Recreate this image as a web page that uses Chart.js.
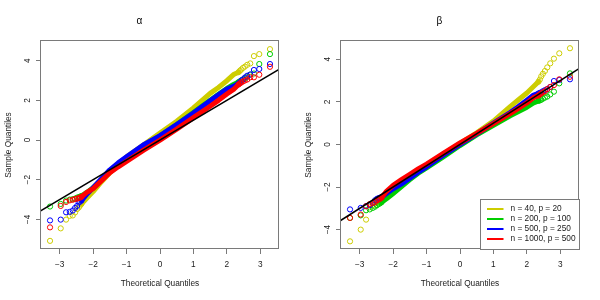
<!DOCTYPE html>
<html>
<head>
<meta charset="utf-8">
<title>QQ plots</title>
<script src="https://cdn.jsdelivr.net/npm/chart.js@4.4.0/dist/chart.umd.min.js"></script>
<style>
  body { margin: 0; background: #fff; }
  .wrap { display: flex; width: 600px; height: 300px; }
  canvas { display: block; }
</style>
</head>
<body>
<div class="wrap">
  <canvas id="alphaChart" width="300" height="300"></canvas>
  <canvas id="betaChart" width="300" height="300"></canvas>
</div>
<script>
// series (one per simulation setting)
const seriesLabels = ["n = 40, p = 20", "n = 200, p = 100", "n = 500, p = 250", "n = 1000, p = 500"];
const seriesColors = ["#cdcd00", "#00cd00", "#0000ff", "#ff0000"];

// axis ticks and ranges
const xTicks = [-3, -2, -1, 0, 1, 2, 3];
const yTicks = [-4, -2, 0, 2, 4];
const xRange = [-3.56, 3.56];
const alphaYRange = [-5.49, 4.99];
const betaYRange = [-4.91, 4.86];
const refLine = [-4, 4]; // y = x

// theoretical quantiles of the separated tail points
const tailX = [-3.29, -2.97, -2.81, -2.70, -2.61, -2.54, -2.48, -2.43, -2.39, -2.35,
               2.35, 2.39, 2.43, 2.48, 2.54, 2.61, 2.70, 2.81, 2.97, 3.29];
// theoretical quantiles along the dense middle band
const bandX = [-2.35, -2.2, -2.0, -1.75, -1.5, -1.25, -1.0, -0.5, 0, 0.5, 1.0, 1.5, 1.75, 2.0, 2.2, 2.35];

// alpha panel, sample quantiles
const alphaTail40 = [-5.08, -4.45, -4.01, -3.82, -3.80, -3.65, -3.48, -3.40, -3.30, -3.22,
                     3.42, 3.49, 3.55, 3.63, 3.70, 3.79, 3.86, 4.23, 4.33, 4.58];
const alphaTail200 = [-3.35, -3.22, -3.05, -3.00, -2.98, -2.95, -2.90, -2.88, -2.85, -2.82,
                      2.92, 2.95, 3.00, 3.05, 3.10, 3.20, 3.30, 3.35, 3.83, 4.33];
const alphaTail500 = [-4.05, -4.01, -3.64, -3.62, -3.55, -3.42, -3.32, -3.15, -3.10, -3.05,
                      2.85, 2.90, 3.00, 3.05, 3.15, 3.24, 3.30, 3.53, 3.58, 3.83];
const alphaTail1000 = [-4.40, -3.32, -3.12, -3.04, -3.01, -2.97, -2.95, -2.92, -2.90, -2.86,
                       2.80, 2.85, 2.90, 2.95, 3.00, 3.05, 3.16, 3.16, 3.29, 3.69];
const alphaBand40 = [-3.22, -2.95, -2.60, -2.10, -1.65, -1.25, -0.85, -0.25, 0.35, 0.95, 1.62, 2.35, 2.65, 2.99, 3.30, 3.42];
const alphaBand200 = [-2.82, -2.65, -2.40, -2.00, -1.55, -1.20, -0.90, -0.30, 0.20, 0.78, 1.38, 2.00, 2.30, 2.60, 2.80, 2.92];
const alphaBand500 = [-3.05, -2.75, -2.40, -1.95, -1.50, -1.15, -0.85, -0.25, 0.22, 0.78, 1.36, 1.98, 2.28, 2.57, 2.70, 2.85];
const alphaBand1000 = [-2.86, -2.65, -2.45, -2.05, -1.65, -1.35, -1.08, -0.52, 0.00, 0.55, 1.13, 1.70, 2.00, 2.32, 2.55, 2.80];

// beta panel, sample quantiles
const betaTail40 = [-4.55, -4.00, -3.53, -2.95, -2.85, -2.78, -2.72, -2.66, -2.62, -2.58,
                    2.95, 3.05, 3.20, 3.32, 3.45, 3.62, 3.81, 4.03, 4.28, 4.52];
const betaTail200 = [-3.45, -3.33, -3.09, -3.05, -2.98, -2.92, -2.85, -2.80, -2.76, -2.72,
                     2.05, 2.07, 2.10, 2.15, 2.20, 2.25, 2.35, 2.48, 2.87, 3.34];
const betaTail500 = [-3.05, -2.98, -2.90, -2.85, -2.75, -2.62, -2.55, -2.52, -2.50, -2.48,
                     2.40, 2.42, 2.45, 2.50, 2.55, 2.60, 2.70, 2.98, 3.03, 3.06];
const betaTail1000 = [-3.45, -3.29, -2.90, -2.80, -2.75, -2.70, -2.62, -2.58, -2.55, -2.50,
                      2.30, 2.35, 2.40, 2.45, 2.50, 2.60, 2.70, 2.79, 3.06, 3.18];
const betaBand40 = [-2.58, -2.30, -2.05, -1.78, -1.50, -1.22, -0.98, -0.45, 0.05, 0.55, 1.10, 1.78, 2.10, 2.42, 2.72, 2.95];
const betaBand200 = [-2.72, -2.55, -2.30, -1.98, -1.65, -1.35, -1.10, -0.58, -0.05, 0.45, 0.90, 1.35, 1.55, 1.75, 1.95, 2.05];
const betaBand500 = [-2.48, -2.30, -2.08, -1.85, -1.58, -1.30, -1.05, -0.50, 0.00, 0.50, 1.00, 1.50, 1.78, 2.08, 2.32, 2.40];
const betaBand1000 = [-2.50, -2.20, -1.92, -1.65, -1.40, -1.15, -0.92, -0.42, 0.07, 0.52, 0.98, 1.45, 1.70, 1.95, 2.20, 2.30];

const fontFamily = "'Liberation Sans', Arial, sans-serif";
const smallFont = { family: fontFamily, size: 8.3 };
const textColor = "#1a1a1a";
const axisGray = "#7a7a7a";

// R style minus sign
const fmt = v => String(v).replace("-", "\u2212");

// frame around the plot region
const boxPlugin = {
  id: "box",
  afterDatasetsDraw(chart) {
    const { ctx, chartArea: a } = chart;
    ctx.save();
    ctx.strokeStyle = axisGray;
    ctx.lineWidth = 1;
    ctx.strokeRect(Math.round(a.left) - 0.5, Math.round(a.top) - 0.5,
                   Math.round(a.right - a.left), Math.round(a.bottom - a.top));
    ctx.restore();
  }
};

// legend box in the bottom right corner, like R's legend("bottomright")
const legendBox = {
  id: "legendBox",
  afterDraw(chart, args, opts) {
    if (!opts.show) return;
    const { ctx, chartArea: a } = chart;
    const w = 99, h = 50;
    const left = Math.round(a.right) - w, top = Math.round(a.bottom) - h;
    ctx.save();
    ctx.fillStyle = "#fff";
    ctx.fillRect(left, top, w, h);
    ctx.strokeStyle = axisGray;
    ctx.lineWidth = 1;
    ctx.strokeRect(left + 0.5, top + 0.5, w, h);
    ctx.font = "8.3px " + fontFamily;
    ctx.textBaseline = "middle";
    ctx.textAlign = "left";
    seriesLabels.forEach((label, i) => {
      const y = top + 10 + i * 10;
      ctx.strokeStyle = seriesColors[i];
      ctx.lineWidth = 2;
      ctx.beginPath();
      ctx.moveTo(left + 7, y);
      ctx.lineTo(left + 23.5, y);
      ctx.stroke();
      ctx.fillStyle = textColor;
      ctx.fillText(label, left + 30.5, y);
    });
    ctx.restore();
  }
};

function buildDatasets(bands, tails) {
  const sets = [];
  seriesLabels.forEach((label, i) => {
    const order = seriesLabels.length - i; // red ends up on top
    sets.push({
      type: "line",
      label: label,
      order: order,
      data: bandX.map((x, k) => ({ x: x, y: bands[i][k] })),
      borderColor: seriesColors[i],
      borderWidth: 5,
      borderCapStyle: "round",
      borderJoinStyle: "round",
      pointRadius: 0,
      tension: 0
    });
    sets.push({
      type: "scatter",
      label: label,
      order: order,
      data: tailX.map((x, k) => ({ x: x, y: tails[i][k] })),
      borderColor: seriesColors[i],
      backgroundColor: "rgba(0,0,0,0)",
      pointRadius: 2.6,
      borderWidth: 1
    });
  });
  sets.push({
    type: "line",
    label: "y = x",
    order: 0,
    data: refLine.map(v => ({ x: v, y: v })),
    borderColor: "#000",
    borderWidth: 1.5,
    pointRadius: 0,
    clip: 0
  });
  return sets;
}

function makeChart(id, title, yRange, bands, tails, showLegend) {
  const ctx = document.getElementById(id).getContext("2d");
  return new Chart(ctx, {
    type: "scatter",
    data: { datasets: buildDatasets(bands, tails) },
    options: {
      responsive: false,
      animation: false,
      events: [],
      layout: { padding: { top: 0, right: 21, bottom: 0, left: 0 } },
      plugins: {
        legend: { display: false },
        tooltip: { enabled: false },
        title: {
          display: true,
          text: title,
          color: "#000",
          font: { family: fontFamily, size: 10, weight: "normal" },
          padding: { top: 15, bottom: 14 }
        },
        legendBox: { show: showLegend }
      },
      scales: {
        x: {
          type: "linear",
          min: xRange[0],
          max: xRange[1],
          afterBuildTicks: s => { s.ticks = xTicks.map(v => ({ value: v })); },
          afterFit: s => { s.height = 51; },
          grid: { drawOnChartArea: false, tickLength: 5, color: axisGray },
          border: { display: false },
          ticks: { font: smallFont, color: textColor, padding: 6, maxRotation: 0, autoSkip: false, callback: fmt },
          title: { display: true, text: "Theoretical Quantiles", font: smallFont, color: textColor, padding: { top: 0, bottom: 11 } }
        },
        y: {
          type: "linear",
          min: yRange[0],
          max: yRange[1],
          afterBuildTicks: s => { s.ticks = yTicks.map(v => ({ value: v })); },
          afterFit: s => { s.width = 41; },
          grid: { drawOnChartArea: false, tickLength: 5, color: axisGray },
          border: { display: false },
          ticks: { font: smallFont, color: textColor, padding: 4, minRotation: 90, maxRotation: 90, crossAlign: "center", autoSkip: false, callback: fmt },
          title: { display: true, text: "Sample Quantiles", font: smallFont, color: textColor, padding: { top: 4, bottom: 0 } }
        }
      }
    },
    plugins: [boxPlugin, legendBox]
  });
}

makeChart("alphaChart", "\u03b1", alphaYRange,
  [alphaBand40, alphaBand200, alphaBand500, alphaBand1000],
  [alphaTail40, alphaTail200, alphaTail500, alphaTail1000], false);
makeChart("betaChart", "\u03b2", betaYRange,
  [betaBand40, betaBand200, betaBand500, betaBand1000],
  [betaTail40, betaTail200, betaTail500, betaTail1000], true);
</script>
</body>
</html>
